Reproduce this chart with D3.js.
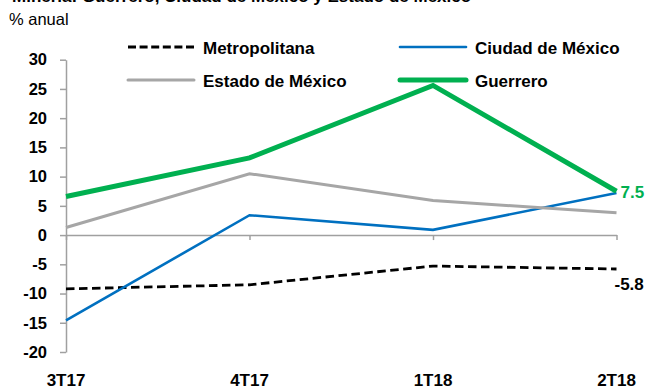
<!DOCTYPE html>
<html><head><meta charset="utf-8">
<script src="https://cdn.jsdelivr.net/npm/d3@7"></script>
<style>
html,body{margin:0;padding:0;background:#fff;}
svg{display:block;font-family:"Liberation Sans",Arial,sans-serif;}
</style></head>
<body>
<svg id="c" width="646" height="387"></svg>
<script>
const categories = ["3T17","4T17","1T18","2T18"];
const metropolitana = [-9.2,-8.5,-5.3,-5.8];
const ciudadMexico = [-14.6,3.4,0.9,7.2];
const estadoMexico = [1.3,10.5,5.9,3.8];
const guerrero = [6.6,13.2,25.6,7.5];
const yTicks = [-20,-15,-10,-5,0,5,10,15,20,25,30];
const seriesNames = ["Metropolitana","Ciudad de México","Estado de México","Guerrero"];

const svg = d3.select("#c");
const x = d3.scalePoint().domain(categories).range([66, 616.5]);
const y = d3.scaleLinear().domain([-20,30]).range([352, 59.7]);
const axisColor = "#a0a0a0";

// Title (clipped at top) and unit
svg.append("text").attr("x",12).attr("y",2).attr("font-size",17).attr("font-weight","bold")
  .text("Minería: Guerrero, Ciudad de México y Estado de México");
svg.append("text").attr("x",9).attr("y",25).attr("font-size",16.5).text("% anual");

// Y axis
const ya = svg.append("g").attr("transform",`translate(${x(categories[0])},0)`)
  .call(d3.axisLeft(y).tickValues(yTicks).tickSize(6).tickSizeOuter(0).tickPadding(13).tickFormat(d=>String(d)));
ya.select(".domain").attr("stroke",axisColor).attr("stroke-width",1.5);
ya.selectAll(".tick line").attr("stroke",axisColor).attr("stroke-width",1.5);
ya.selectAll(".tick text").attr("font-size",16.5).attr("font-weight","bold").attr("fill","#000")
  .attr("font-family","Liberation Sans, Arial, sans-serif");

// X axis at zero
const xa = svg.append("g").attr("transform",`translate(0,${y(0)})`)
  .call(d3.axisBottom(x).tickSize(5).tickSizeOuter(0).tickFormat(""));
xa.select(".domain").attr("stroke",axisColor).attr("stroke-width",1.5);
xa.selectAll(".tick line").attr("stroke",axisColor).attr("stroke-width",1.5);

// Category labels at bottom
svg.append("g").selectAll("text").data(categories).join("text")
  .attr("x",d=>x(d)).attr("y",386).attr("text-anchor","middle")
  .attr("font-size",17).attr("font-weight","bold").text(d=>d);

const line = d3.line().x((d,i)=>x(categories[i])).y(d=>y(d));
const styles = [
  {data:metropolitana, color:"#000", w:2.8, dash:"8.5,4.5"},
  {data:ciudadMexico, color:"#0070c0", w:2.6, dash:null},
  {data:estadoMexico, color:"#a6a6a6", w:3, dash:null},
  {data:guerrero, color:"#00b050", w:5, dash:null}
];
styles.forEach(s=>{
  svg.append("path").datum(s.data).attr("d",line).attr("fill","none")
    .attr("stroke",s.color).attr("stroke-width",s.w)
    .attr("stroke-dasharray",s.dash).attr("stroke-linejoin","miter");
});

// End labels
svg.append("text").attr("x",x("2T18")+4).attr("y",y(guerrero[3])+6.5)
  .attr("font-size",17).attr("font-weight","bold").attr("fill","#00b050").text(String(guerrero[3]));
svg.append("text").attr("x",x("2T18")-2).attr("y",y(metropolitana[3])+21)
  .attr("font-size",17).attr("font-weight","bold").attr("fill","#000").text(String(metropolitana[3]));

// Legend
const legPos = [[128,47],[400,47],[128,80],[400,80]];
seriesNames.forEach((n,i)=>{
  const [lx,ly] = legPos[i];
  const s = styles[i];
  svg.append("line").attr("x1",lx).attr("x2",lx+66).attr("y1",ly).attr("y2",ly)
    .attr("stroke",s.color).attr("stroke-width",s.w).attr("stroke-dasharray",s.dash ? "8,3.6" : null)
    .attr("stroke-linecap", s.dash ? "butt" : "round");
  svg.append("text").attr("x",lx+75).attr("y",ly+6.5).attr("font-size",17)
    .attr("font-weight","bold").text(n);
});
</script>
</body></html>
